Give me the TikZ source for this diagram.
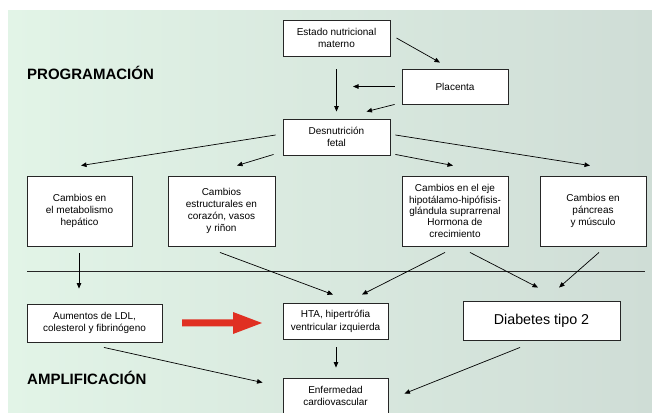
\documentclass[tikz,border=0pt]{standalone}
\usepackage{fontspec}
\setmainfont{Liberation Sans}
\usetikzlibrary{arrows.meta,calc}
\definecolor{bgleft}{HTML}{E2F4E7}
\definecolor{bgright}{HTML}{CFDDD6}
\definecolor{arrowred}{HTML}{E03022}
\begin{document}
\begin{tikzpicture}[x=1pt,y=-1pt,
  box/.style={draw=black!85,line width=0.9pt,fill=white,align=center,inner sep=0pt,
    font=\fontsize{10}{12}\selectfont},
  conn/.style={line width=0.7pt,-{Triangle[length=5.5pt,width=4.5pt]}},
  headlabel/.style={font=\fontsize{15}{18}\selectfont\bfseries,anchor=base west,inner sep=0pt}]
\useasboundingbox (0,0) rectangle (652,412);
\clip (0,0) rectangle (652,412);
\shade[left color=bgleft,right color=bgright] (8,11) rectangle (652,420);

% labels
\node[headlabel] (prog) at (27,79) {PROGRAMACIÓN};
\node[headlabel] (ampl) at (27,384) {AMPLIFICACIÓN};

% top nodes
\node[box,minimum width=107,minimum height=36] (estado) at (336.5,38) {Estado nutricional\\materno};
\node[box,minimum width=106,minimum height=35] (placenta) at (455,86.5) {Placenta};
\node[box,minimum width=107,minimum height=36] (desnut) at (336.5,137) {Desnutrición\\fetal};

% middle row
\node[box,minimum width=105,minimum height=70] (metab) at (79.5,211) {Cambios en\\el metabolismo\\hepático};
\node[box,minimum width=107,minimum height=70] (estruct) at (221.5,211) {Cambios\\estructurales en\\corazón, vasos\\y riñon};
\node[box,minimum width=106,minimum height=70,font=\fontsize{10}{11.3}\selectfont] (eje) at (455,211) {Cambios en el eje\\hipotálamo-hipófisis-\\glándula suprarrenal\\Hormona de\\crecimiento};
\node[box,minimum width=106,minimum height=70] (pancreas) at (593,211) {Cambios en\\páncreas\\y músculo};

% divider
\coordinate (divL) at (27,271);
\coordinate (divR) at (645,271);
\draw[line width=0.9pt,black!85] (divL) -- (divR);

% bottom row
\node[box,minimum width=135,minimum height=38] (aumentos) at (94.5,323) {Aumentos de LDL,\\colesterol y fibrinógeno};
\node[box,minimum width=105,minimum height=36,font=\fontsize{10}{13}\selectfont] (hta) at (335.5,321) {HTA, hipertrófia\\ventricular izquierda};
\node[box,minimum width=157,minimum height=39,font=\fontsize{14.3}{16}\selectfont] (diabetes) at (541.5,320.5) {Diabetes tipo 2};
\node[box,minimum width=105,minimum height=36] (enf) at (335.5,396) {Enfermedad\\cardiovascular};

% red arrow
\fill[arrowred] (182,319.3) -- (233,319.3) -- (233,312) -- (262,323) -- (233,334) -- (233,326.3) -- (182,326.3) -- cycle;

% connectors
\coordinate (plend) at (353,86.5);
\draw[conn] ($(estado.east)+(6,0)$) -- ($(placenta.north)+(-15,-6)$);
\draw[conn] ($(estado.south)+(0,13)$) -- ($(desnut.north)+(0,-7)$);
\draw[conn] ($(placenta.west)+(-7,0)$) -- (plend);
\draw[conn] ($(placenta.south west)+(-7,0)$) -- ($(desnut.north)+(30,-7)$);

\draw[conn] ($(desnut.west)+(-7,-2)$) -- ($(metab.north)+(1.5,-10)$);
\draw[conn] ($(desnut.south west)+(-9,-1)$) -- ($(estruct.north)+(15.5,-10)$);
\draw[conn] ($(desnut.south east)+(5,-1)$) -- ($(eje.north)+(-2,-10)$);
\draw[conn] ($(desnut.east)+(5,-2)$) -- ($(pancreas.north)+(-3,-10)$);

\draw[conn] ($(metab.south)+(-0.5,7)$) -- ($(aumentos.north)+(-15.5,-15)$);
\draw[conn] ($(estruct.south)+(-1.5,6)$) -- ($(hta.north)+(-2.5,-8)$);
\draw[conn] ($(eje.south)+(-10,6)$) -- ($(hta.north)+(26.5,-8)$);
\draw[conn] ($(eje.south)+(15,6)$) -- ($(diabetes.north)+(-3.5,-13)$);
\draw[conn] ($(pancreas.south)+(6,6)$) -- ($(diabetes.north)+(17.5,-13)$);

\draw[conn] ($(hta.south)+(0.5,8)$) -- ($(enf.north)+(0.5,-10)$);
\draw[conn] ($(aumentos.south)+(9.5,5)$) -- ($(enf.north west)+(-20,5)$);
\draw[conn] ($(diabetes.south)+(-21.5,7)$) -- ($(enf.north east)+(16,16)$);
\end{tikzpicture}
\end{document}
